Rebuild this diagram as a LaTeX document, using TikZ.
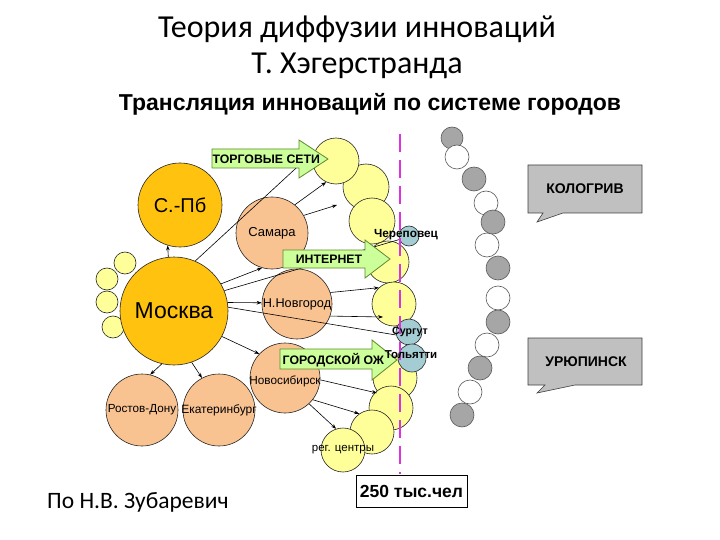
\documentclass[tikz,border=0pt]{standalone}
\usepackage{fontspec}
\setmainfont{Liberation Sans}
\newfontfamily\calib{Carlito}
\usetikzlibrary{arrows.meta,calc}
\definecolor{goldc}{HTML}{FFC20E}
\definecolor{peachc}{HTML}{F9C291}
\definecolor{yelc}{HTML}{FFFF99}
\definecolor{bluc}{HTML}{A3CDD3}
\definecolor{gryc}{HTML}{A6A6A6}
\definecolor{greenc}{HTML}{CCFF99}
\definecolor{greenb}{HTML}{5E8A2E}
\definecolor{pinkc}{HTML}{DD33DD}
\definecolor{callc}{HTML}{C0C0C0}
\begin{document}
\begin{tikzpicture}[x=1pt,y=-1pt,
  city/.style={circle, draw=black!85, line width=0.6pt, inner sep=0pt, minimum size=#1},
  bigc/.style={city=#1, fill=goldc},
  peachcirc/.style={city=#1, fill=peachc},
  yelcirc/.style={city=#1, fill=yelc},
  blucirc/.style={city=#1, fill=bluc},
  grycirc/.style={city=#1, fill=gryc, draw=black!65},
  whtcirc/.style={city=#1, fill=white, draw=black!65},
  thinarr/.style={-{Stealth[length=5pt,width=3.6pt]}, line width=0.6pt},
  thinline/.style={line width=0.6pt},
  garrow/.style={fill=greenc, draw=greenb, line width=0.8pt},
  gtext/.style={font=\bfseries\fontsize{12.3}{14}\selectfont, inner sep=0pt},
  lab/.style={font=\fontsize{#1}{#1}\selectfont, inner sep=0pt},
  blab/.style={font=\bfseries\fontsize{#1}{#1}\selectfont, inner sep=0pt},
  callout/.style={fill=callc, draw=black!75, line width=0.6pt},
]
\path[use as bounding box, fill=white] (0,0) rectangle (720,540);

% titles
\node[font=\calib\fontsize{32}{36}\selectfont, inner sep=0pt] (t1) at (357,29) {Теория диффузии инноваций};
\node[font=\calib\fontsize{32}{36}\selectfont, inner sep=0pt] (t2) at (357,66) {Т. Хэгерстранда};
\node[font=\bfseries\fontsize{23}{26}\selectfont, inner sep=0pt] (sub) at (370,104) {Трансляция инноваций по системе городов};

% small yellow circles left of Moscow
\node[yelcirc=22pt] (s1) at (125,263) {};
\node[yelcirc=22pt] (s2) at (107,279) {};
\node[yelcirc=22pt] (s3) at (107,302) {};
\node[yelcirc=22pt] (s4) at (113,327) {};

% big cities
\node[bigc=84pt] (spb) at (180,205) {};
\node[bigc=108pt] (msk) at (174,311) {};

% peach cities
\node[peachcirc=72pt] (sam) at (272,233) {};
\node[peachcirc=70pt] (nn) at (297,304) {};
\node[peachcirc=70pt] (nsk) at (285,378) {};
\node[peachcirc=72pt] (ros) at (142,410) {};
\node[peachcirc=72pt] (ekb) at (219,410) {};

% yellow chain
\node[yelcirc=46pt] (y2) at (366,187) {};
\node[yelcirc=46pt] (y1) at (336,161) {};
\node[yelcirc=42pt] (y4) at (388,262) {};
\node[yelcirc=46pt] (y3) at (372,221) {};
\node[yelcirc=44pt] (y5) at (394,304) {};
\node[yelcirc=44pt] (y6) at (395,378) {};
\node[yelcirc=44pt] (y7) at (391,408) {};
\node[yelcirc=44pt] (y8) at (372,432) {};
\node[yelcirc=44pt] (y9) at (343,450) {};

% grey / white chain
\node[grycirc=22pt] (g1) at (452,138) {};
\node[whtcirc=24pt] (w1) at (457,157) {};
\node[grycirc=24pt] (g2) at (474,179) {};
\node[whtcirc=24pt] (w2) at (486,203) {};
\node[grycirc=24pt] (g3) at (493,222) {};
\node[whtcirc=24pt] (w3) at (487,245) {};
\node[grycirc=24pt] (g4) at (498,268) {};
\node[whtcirc=24pt] (w4) at (498,298) {};
\node[grycirc=24pt] (g5) at (498,322) {};
\node[whtcirc=24pt] (w5) at (487,345) {};
\node[grycirc=24pt] (g6) at (480,368) {};
\node[whtcirc=24pt] (w6) at (470,392) {};
\node[grycirc=24pt] (g7) at (462,415) {};

% free ends
\coordinate (samend) at (337,205);
\coordinate (y5in) at (383,317);
\coordinate (y7in) at (377,393);

% thin arrows
\draw[thinarr] (msk.96) -- (spb.253);
\draw[thinarr] (msk.67) -- (y1.153);
\draw[thinarr] (sam.51) -- (y1.245);
\draw[thinarr] (sam.29) -- (samend);
\draw[thinarr] (msk.30) -- (sam.254);
\draw[thinarr] (msk.9) -- (nn.178);
\draw[thinarr] (msk.332) -- (nsk.137);
\draw[thinarr] (msk.257) -- (ros.77);
\draw[thinarr] (msk.289) -- (ekb.118);
\draw[thinarr] (nn.19) -- (y5.133);
\draw[thinarr] (nn.340) -- (y5in);
\draw[thinarr] (nsk.357) -- (y7in);
\draw[thinarr] (nsk.322) -- (y8.125);
\draw[thinarr] (nsk.313) -- (y9.108);

% blue cities
\node[blucirc=20pt] (cher) at (409,236) {};
\node[blucirc=26pt] (sur) at (409,332) {};
\node[blucirc=28pt] (tol) at (412,358) {};

\draw[thinline] (msk.22) -- (cher.200);
\draw[thinline] (msk.4) -- (sur.193);

% green block arrows
\draw[garrow] (212,149) -- (299,149) -- (299,140) -- (328,159) -- (299,178) -- (299,168) -- (212,168) -- cycle;
\draw[garrow] (283,250) -- (365,250) -- (365,240) -- (390,259) -- (365,278) -- (365,268) -- (283,268) -- cycle;
\draw[garrow] (280,349) -- (372,349) -- (372,340) -- (397,360) -- (372,380) -- (372,369) -- (280,369) -- cycle;
\node[gtext, anchor=west] (ts) at (212.5,159) {ТОРГОВЫЕ СЕТИ};
\node[gtext] (inet) at (329,259) {ИНТЕРНЕТ};
\node[gtext, anchor=west] (gorod) at (282.5,360) {ГОРОДСКОЙ ОЖ};

% dashed threshold line
\coordinate (dtop) at (400,134);
\coordinate (dbot) at (400,474);
\draw[pinkc, line width=2.6pt, dash pattern=on 18pt off 8pt] (dtop) -- (dbot);

% labels
\node[lab=20] at (spb) {С.-Пб};
\node[lab=23] at (msk) {Москва};
\node[lab=13] at (sam) {Самара};
\node[lab=12.7] at (nn) {Н.Новгород};
\node[lab=11.8] at (285,381) {Новосибирск};
\node[lab=11.7] at (ros) {Ростов-Дону};
\node[lab=12] at (ekb) {Екатеринбург};
\node[lab=11.5] at (343,450) {рег. центры};
\node[blab=11.8] at (406,235) {Череповец};
\node[blab=10.6] at (410,332) {Сургут};
\node[blab=11.5] at (411,355) {Тольятти};

% callouts
\draw[callout] (528,165) -- (642,165) -- (642,213) -- (563,213) -- (537,222) -- (543,213) -- (528,213) -- cycle;
\node[blab=14] (kol) at (585,189) {КОЛОГРИВ};
\draw[callout] (528,338) -- (642,338) -- (642,385) -- (575,385) -- (537,393) -- (545,385) -- (528,385) -- cycle;
\node[blab=14] (ur) at (586,362) {УРЮПИНСК};

% threshold box
\node[draw=black, line width=0.8pt, fill=white, minimum width=111pt, minimum height=32pt, inner sep=0pt, font=\bfseries\fontsize{17.5}{18}\selectfont] (thr) at (411.5,491) {250 тыс.чел};

% author
\node[font=\calib\fontsize{23.5}{26}\selectfont, inner sep=0pt, anchor=west] (auth) at (47,502) {По Н.В. Зубаревич};
\end{tikzpicture}
\end{document}
